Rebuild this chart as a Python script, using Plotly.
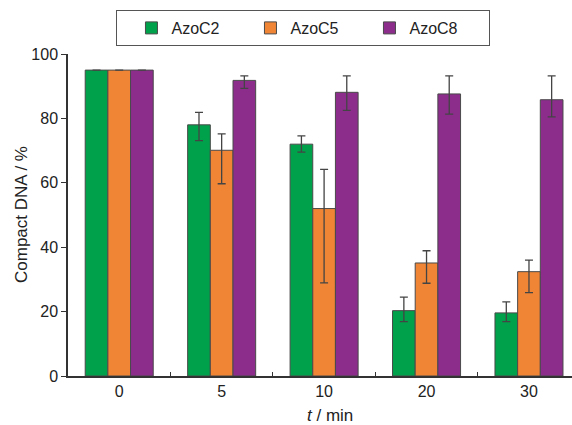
import plotly.graph_objects as go

categories = ["0", "5", "10", "20", "30"]
series_names = ["AzoC2", "AzoC5", "AzoC8"]
colors = ["#00a14b", "#f08536", "#8c2d8c"]

azoc2 = [95, 78, 72, 20.3, 19.6]
azoc2_plus = [None, 3.9, 2.6, 4.2, 3.4]
azoc2_minus = [None, 4.9, 2.5, 3.4, 2.7]

azoc5 = [95, 70.1, 52, 35.1, 32.4]
azoc5_plus = [None, 5.1, 12.2, 3.8, 3.6]
azoc5_minus = [None, 10.4, 23.1, 6.3, 6.5]

azoc8 = [95, 91.8, 88.1, 87.6, 85.8]
azoc8_plus = [None, 1.4, 5.1, 5.6, 7.4]
azoc8_minus = [None, 2.5, 5.6, 6.3, 5.3]

values = [azoc2, azoc5, azoc8]
plus = [azoc2_plus, azoc5_plus, azoc8_plus]
minus = [azoc2_minus, azoc5_minus, azoc8_minus]

fig = go.Figure()
for name, col, v, p, m in zip(series_names, colors, values, plus, minus):
    fig.add_trace(go.Bar(
        x=categories, y=v, name=name,
        marker=dict(color=col, line=dict(color="#4a4a4a", width=1)),
        error_y=dict(type="data", symmetric=False, array=p, arrayminus=m,
                     color="#444444", thickness=1.3, width=4,
                     visible=True),
    ))

font_family = "Arial, Liberation Sans, Helvetica, sans-serif"
fig.update_layout(
    width=572, height=425,
    margin=dict(l=68, r=0, t=54, b=49, autoexpand=False),
    paper_bgcolor="white", plot_bgcolor="white",
    barmode="group", bargap=0.336, bargroupgap=0,
    font=dict(family=font_family, size=16, color="#222222"),
    showlegend=True,
    legend=dict(orientation="h", xref="container", yref="container",
                x=116 / 572, xanchor="left", y=1 - 10 / 425, yanchor="top",
                bordercolor="#555555", borderwidth=1,
                entrywidth=74, entrywidthmode="pixels",
                title=dict(text="\u00a0", side="left", font=dict(size=16)),
                font=dict(size=16, family=font_family, color="#222222"),
                traceorder="normal"),
    xaxis=dict(type="category", range=[-0.5, 4.42], automargin=False,
               showline=True, linecolor="#333333", linewidth=1.5,
               ticks="inside", tickson="boundaries", ticklen=4, tickcolor="#333333",
               tickfont=dict(size=16), showgrid=False, zeroline=False),
    yaxis=dict(range=[0, 100], tickvals=[0, 20, 40, 60, 80, 100], automargin=False,
               showline=True, linecolor="#333333", linewidth=1.5,
               ticks="outside", ticklen=5, tickcolor="#333333",
               tickfont=dict(size=16), showgrid=False, zeroline=False),
    annotations=[
        dict(text="<i>t</i> / min", xref="paper", yref="paper",
             x=(330 - 68) / 504, y=-(415 - 376) / 322,
             xanchor="center", yanchor="middle", showarrow=False,
             font=dict(size=17, family=font_family, color="#222222")),
        dict(text="Compact DNA / %", xref="paper", yref="paper",
             x=-(68 - 21) / 504, y=0.5, textangle=-90,
             xanchor="center", yanchor="middle", showarrow=False,
             font=dict(size=17, family=font_family, color="#222222")),
    ],
)

fig.write_html("out.html", config={"displayModeBar": False},
               post_script="document.body.style.margin='0';")
